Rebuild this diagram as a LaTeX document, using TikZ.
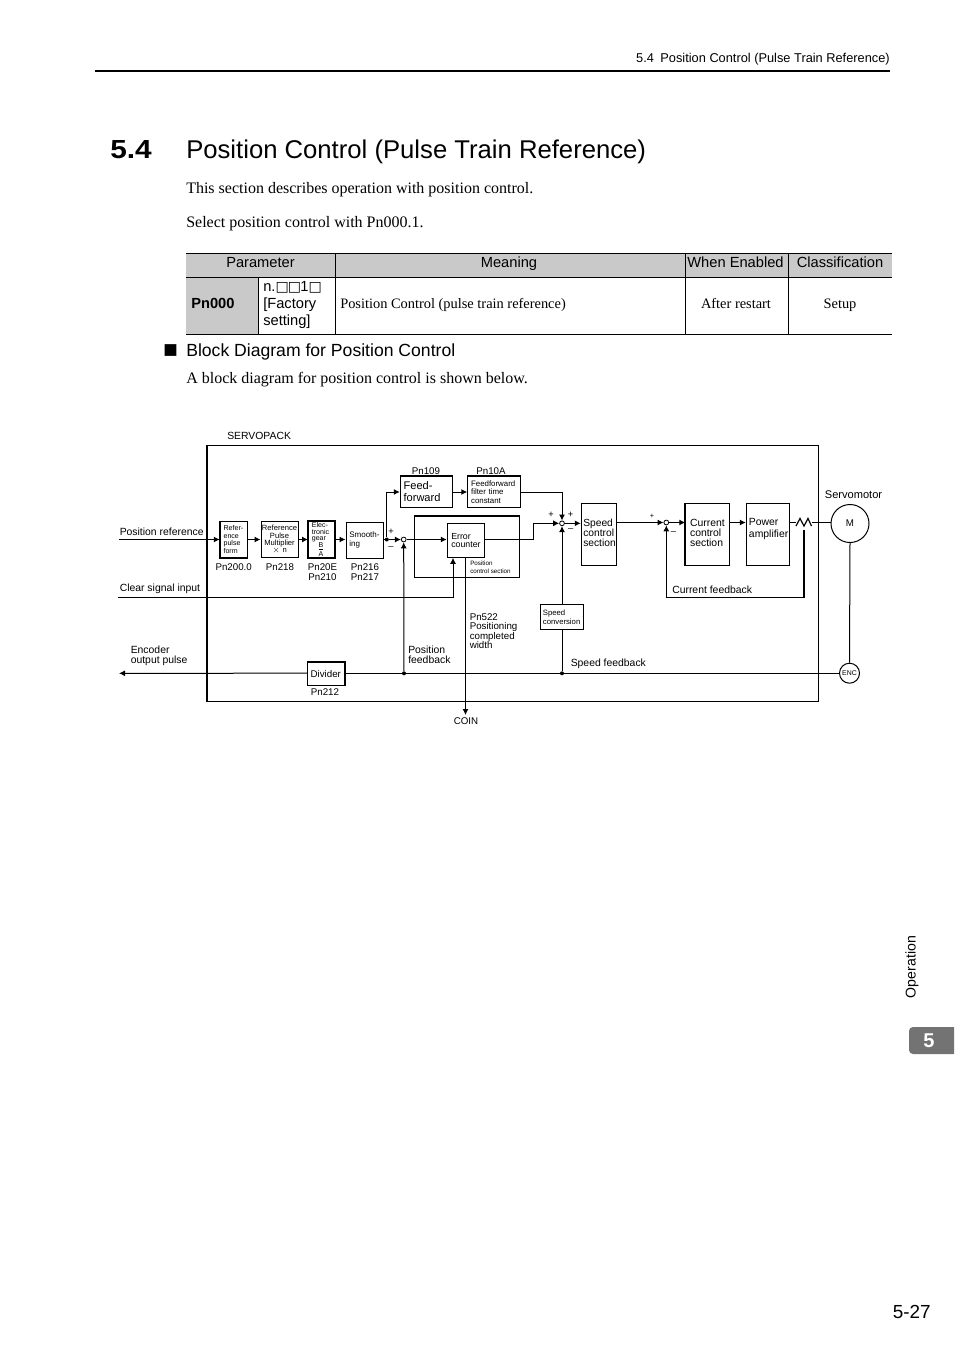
\documentclass[tikz,border=0pt]{standalone}
\usepackage{fontspec}
\setmainfont{Liberation Sans}
\newfontfamily\serifbody{Liberation Serif}
\newfontfamily\symfont{DejaVu Sans}
\newfontfamily\secfont[FakeStretch=1.14]{Liberation Sans}
\usetikzlibrary{arrows.meta, positioning, calc}
\newcommand{\fsize}[2]{\fontsize{#1}{#2}\selectfont}
\newcommand{\blanksq}{{\symfont\fsize{10.5}{12}□}\hspace{-0.6pt}}

\begin{document}
\begin{tikzpicture}[
  x=0.75pt, y=-0.75pt,
  >={Latex[length=4.5pt,width=4.5pt]},
  every node/.style={inner sep=0pt, text=black},
  blockbox/.style n args={2}{rectangle, draw, fill=white, line width=0.75pt, align=left,
    minimum width=#1*0.75pt, minimum height=#2*0.75pt, text width=#1*0.75pt-5pt},
  heavy/.style={line width=1.5pt, line cap=square},
  flow/.style={line width=0.75pt, ->},
  wire/.style={line width=0.75pt},
  joint/.style={circle, draw, fill=white, line width=0.6pt, minimum size=3.6pt},
  branch/.style={circle, fill=black, minimum size=3pt},
  tag/.style={font=\fsize{7.8}{7.6}, align=left},
  tagc/.style={font=\fsize{7.3}{7.6}, align=center},
  tiny/.style={font=\fsize{5.3}{5.9}, align=left},
  sign/.style={font=\fsize{7}{7}},
  body/.style={font=\fsize{12}{14}\serifbody, anchor=base west},
  cell/.style={font=\fsize{11}{12.2}, anchor=base},
  serifcell/.style={font=\fsize{10.8}{12}\serifbody, anchor=base},
  rule/.style={line width=0.75pt}
  ]
  \fill[white] (0,0) rectangle (954,1350);

  %% Page head
  \node[anchor=base east, font=\fsize{9.6}{11}] (runhead) at (890,62.3) {5.4\hspace{0.5em}Position Control (Pulse Train Reference)};
  \draw[line width=1.5pt] (95,71) -- (890,71);
  \node[anchor=base west, font=\fsize{19.6}{24}\secfont\bfseries] (secno) at (110,158.5) {5.4};
  \node[anchor=base west, font=\fsize{19.25}{24}] (sectitle) at (186,158.5) {Position Control (Pulse Train Reference)};
  \node[body] (intro) at (186,193.3) {This section describes operation with position control.};
  \node[body] (select) at (186,227.6) {Select position control with Pn000.1.};

  %% Parameter table
  \fill[gray!42] (186,253.5) rectangle (892,277);
  \fill[gray!42] (186,277) rectangle (258.5,334.5);
  \draw[rule] (186,253.5) -- (892,253.5);
  \draw[rule] (186,277) -- (892,277);
  \draw[rule] (186,334.5) -- (892,334.5);
  \draw[rule] (258.5,277) -- (258.5,334.5);
  \foreach \xcol in {335.5, 685.5, 788}{
    \draw[rule] (\xcol,253.5) -- (\xcol,334.5);
  }
  \node[cell] (hparam) at (260.5,267.4) {Parameter};
  \node[cell] (hmean) at (509,267.4) {Meaning};
  \node[cell] (hwhen) at (735.5,267.4) {When Enabled};
  \node[cell] (hclass) at (840,267.4) {Classification};
  \node[anchor=west, font=\fsize{11}{12}\bfseries] (pn000) at (191,303.5) {Pn000};
  \node[anchor=west, align=left, font=\fsize{11}{12.75}] (factory) at (263,305) {n.\blanksq\blanksq 1\blanksq\\{}[Factory\\setting]};
  \node[serifcell, anchor=base west] (pctl) at (340,308.3) {Position Control (pulse train reference)};
  \node[serifcell] (restart) at (736,308.3) {After restart};
  \node[serifcell] (setup) at (840,308.3) {Setup};

  %% Block heading
  \node[font=\fsize{11.5}{12}\symfont] (bullet) at (170.5,351) {■};
  \node[anchor=base west, font=\fsize{13.2}{15}] (blockhead) at (186,356.3) {Block Diagram for Position Control};
  \node[body] (blockintro) at (186,383.3) {A block diagram for position control is shown below.};

  %% Servopack frame
  \node[rectangle, draw, line width=0.75pt, minimum width=611.5*0.75pt, minimum height=256*0.75pt] (servopack) at (512.75,573.5) {};
  \draw[heavy] (servopack.north west) -- (servopack.south west);
  \node[tag, anchor=west] (servolabel) at (227,435.5) {SERVOPACK};

  %% Blocks
  \node[blockbox={27.5}{36}, tiny] (pulse) at (234,539.5) {Refer-\\ence\\pulse\\form};
  \node[blockbox={37}{36}, font=\fsize{5.7}{5.5}, align=center, text width=37*0.75pt] (multi) at (279.5,539.5) {Reference\\Pulse\\Multiplier\\$\times$ n};
  \node[blockbox={26}{36}, font=\fsize{5.3}{4.9}] (gear) at (321.5,539.5) {Elec-\\tronic\\gear\\\hspace*{5pt}B\\\hspace*{5pt}$\overline{\mbox{A}}$};
  \node[blockbox={37}{36}, font=\fsize{6}{6.5}, align=left] (smooth) at (364.5,540) {Smooth-\\ing};
  \node[blockbox={52.5}{31}, font=\fsize{8.3}{9}] (feed) at (426.5,492) {Feed-\\forward};
  \node[blockbox={52.5}{31}, font=\fsize{5.9}{6.2}] (filter) at (494,492) {Feedforward\\filter time\\constant};
  \node[rectangle, draw, line width=0.75pt, minimum width=104.5*0.75pt, minimum height=60.5*0.75pt] (posctl) at (467,547) {};
  \node[blockbox={37.5}{34}, font=\fsize{6.6}{6.4}, text width=37.5*0.75pt-6pt] (error) at (466,540.3) {Error\\counter};
  \node[blockbox={35.5}{62}, font=\fsize{7.7}{7.6}, text width=35.5*0.75pt-3pt] (speed) at (599,534.3) {Speed\\control\\section\\[-5.5pt]\mbox{}};
  \node[blockbox={43.5}{25.5}, font=\fsize{5.8}{6.1}, text width=43.5*0.75pt-4pt] (conv) at (562,617.2) {Speed\\conversion};
  \node[blockbox={43.5}{62}, font=\fsize{7.8}{7.6}, text width=43.5*0.75pt-6.5pt] (current) at (707.5,534.3) {Current\\control\\section\\[-5.5pt]\mbox{}};
  \node[blockbox={43}{62}, font=\fsize{7.8}{9.2}, text width=43*0.75pt-4pt] (power) at (767.8,534.3) {Power\\amplifier\\\mbox{}};
  \node[blockbox={37}{23}, font=\fsize{7.3}{8}, align=center, text width=37*0.75pt] (divider) at (325.8,673.8) {Divider};
  \node[circle, draw, fill=white, line width=0.75pt, minimum size=38*0.75pt, font=\fsize{7.3}{8}] (motor) at (850,523.5) {M};
  \node[circle, draw, fill=white, line width=0.75pt, minimum size=20*0.75pt, font=\fsize{5.2}{6}] (enc) at (849.5,673.2) {ENC};

  % heavier edges
  \draw[heavy] (pulse.north west) -- (pulse.south west) -- (pulse.south east);
  \draw[heavy] (gear.south west) rectangle (gear.north east);
  \draw[heavy] (feed.north west) -- (feed.north east);
  \draw[heavy] (filter.north west) -- (filter.north east);
  \draw[heavy] (posctl.north west) -- (posctl.north east);
  \draw[heavy] (current.north west) -- (current.south west);
  \draw[heavy] (divider.north west) -- (divider.north east) -- (divider.south east);

  %% Summing points
  \node[joint] (sumpos) at (403.7,539.5) {};
  \node[joint] (sumspd) at (562,523.3) {};
  \node[joint] (sumcur) at (666.3,522.5) {};
  \node[branch] (split) at (386.8,539.5) {};
  \node[branch] (posfb) at (404,673.3) {};
  \node[branch] (spdfb) at (562,673.3) {};

  %% Free ends
  \coordinate (posin) at (119,539.5);
  \coordinate (clearin) at (118,597.3);
  \coordinate (encout) at (119,673.3);
  \coordinate (coinout) at (465.5,715);
  \coordinate (ctin) at (796,522.5);
  \coordinate (ctout) at (811.5,522.5);
  \coordinate (cttap) at (804,530);

  %% Forward path
  \draw[flow] (posin) -- (pulse.west);
  \draw[flow] (pulse.east) -- (multi.west);
  \draw[flow] (multi.east) -- (gear.west);
  \draw[flow] (gear.east) -- (smooth.west |- gear.east);
  \draw[wire] (smooth.east |- split) -- (split);
  \draw[flow] (split) -- (sumpos);
  \draw[flow] (split) |- (feed.west);
  \draw[flow] (feed.east) -- (filter.west);
  \draw[flow] (sumpos) -- (error.west |- sumpos);
  \draw[flow] (filter.east) -| (sumspd.north);
  \draw[flow] (error.east |- sumpos) -- (533.5,539.5) |- (sumspd.west);
  \draw[flow] (sumspd) -- (speed.west |- sumspd);
  \draw[flow] (speed.east |- sumcur) -- (sumcur.west);
  \draw[flow] (sumcur) -- (current.west |- sumcur);
  \draw[flow] (current.east |- sumcur) -- (power.west |- sumcur);
  \draw[wire] (power.east |- sumcur) -- (ctin);
  \draw[line width=0.9pt] (796,526) -- (800,518.5) -- (804,526) -- (808,518.5) -- (811.5,526);
  \draw[wire] (ctout) -- (motor.west |- ctout);
  \draw[wire] (motor.south) -- (enc.north);

  %% Feedback paths
  \draw[flow] (clearin) -| (error.south -| 453,0);
  \draw[wire] (enc.west) -- (divider.east |- enc.west);
  \draw[flow] (divider.west |- enc.west) -- (encout);
  \draw[flow] (posfb) -- (sumpos.south);
  \draw[wire] (spdfb) -- (conv.south -| spdfb);
  \draw[flow] (conv.north -| sumspd) -- (sumspd.south);
  \draw[flow] (error.south -| coinout) -- (coinout);
  \draw[heavy, line cap=butt] (cttap) -- (804,597.5);
  \draw[flow] (804,597.5) -| (sumcur.south);

  %% Signs
  \node[sign] (plusa) at (391,531.5) {+};
  \node[sign] (minusa) at (391,548) {--};
  \node[sign] (plusb) at (551,515) {+};
  \node[sign] (plusc) at (570.7,515) {+};
  \node[sign] (minusb) at (570.7,530) {--};
  \node[sign, font=\fsize{5.5}{6}] (plusd) at (652,516) {+};
  \node[sign] (minusc) at (673.5,532.7) {--};

  %% Parameter labels
  \node[tagc] (pn109) at (426,470.8) {Pn109};
  \node[tagc] (pn10a) at (491,470.8) {Pn10A};
  \node[tagc] (pn200) at (233.7,567) {Pn200.0};
  \node[tagc] (pn218) at (280,567) {Pn218};
  \node[tagc] (pn20e) at (322.5,572) {Pn20E\\Pn210};
  \node[tagc] (pn216) at (365,572) {Pn216\\Pn217};
  \node[tagc] (pn212) at (325,691.7) {Pn212};

  %% Signal labels
  \node[tag, anchor=west] (posref) at (119.5,531.5) {Position reference};
  \node[tag, anchor=west] (clearsig) at (119.5,588.5) {Clear signal input};
  \node[tag, anchor=west] (encpulse) at (130.5,656) {Encoder\\output pulse};
  \node[tag, anchor=west] (poslabel) at (408,654.5) {Position\\feedback};
  \node[tag, anchor=west, font=\fsize{7.3}{7.1}] (pn522) at (469.5,631) {Pn522\\Positioning\\completed\\width};
  \node[tag, anchor=west] (spdlabel) at (570.5,663.5) {Speed feedback};
  \node[tag, anchor=west] (curlabel) at (672,589.7) {Current feedback};
  \node[tiny, anchor=west, font=\fsize{4.7}{6}] (ctllabel) at (470,567.5) {Position\\control section};
  \node[tagc] (coin) at (466,721.2) {COIN};
  \node[tagc, font=\fsize{8.3}{9}] (servomotor) at (853.5,495) {Servomotor};

  %% Page margin
  \node[rotate=90, font=\fsize{10.6}{11}] (oper) at (912,967) {Operation};
  \fill[black!55] (954,1027) [rounded corners=3pt] -- (909,1027) -- (909,1054) [sharp corners] -- (954,1054) -- cycle;
  \node[font=\fsize{15}{16}\bfseries, text=white] (chapno) at (929,1040.5) {5};
  \node[anchor=east, font=\fsize{14.2}{17}] (pageno) at (931,1312) {5-27};
\end{tikzpicture}
\end{document}
